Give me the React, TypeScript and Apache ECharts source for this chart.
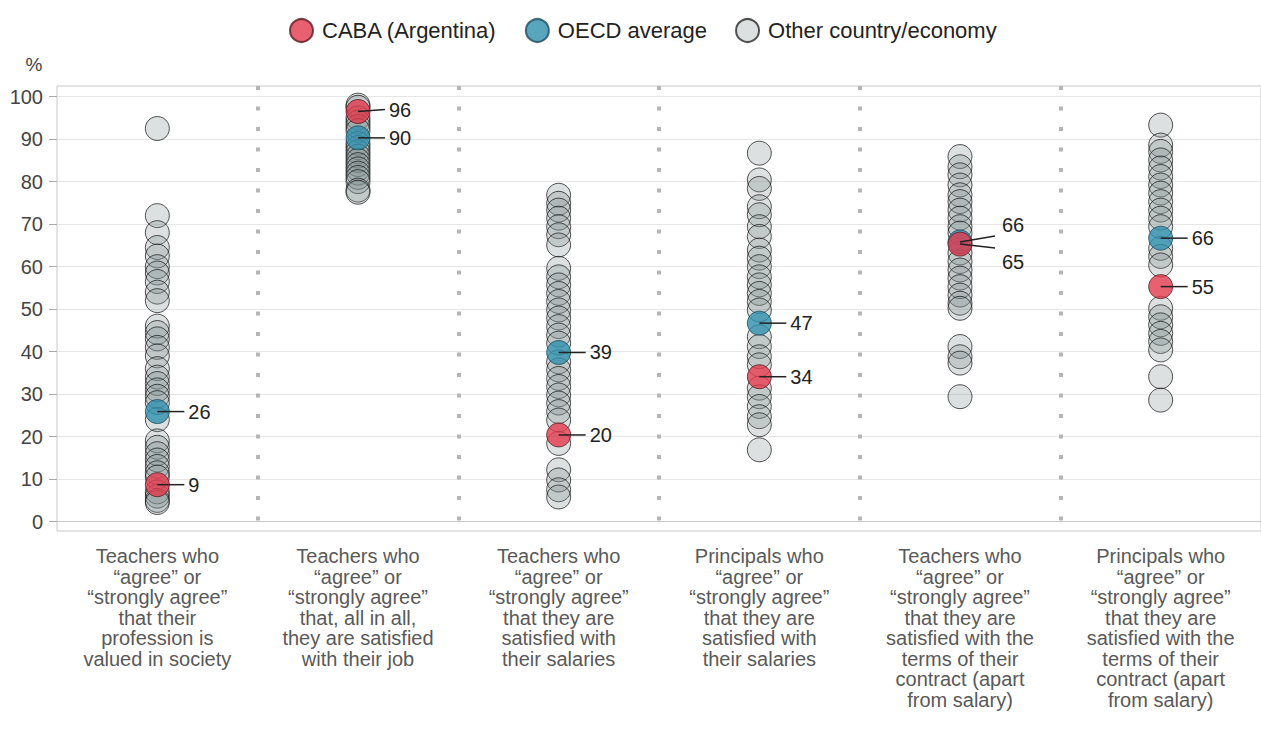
import React, { useEffect, useRef } from "react";
import * as echarts from "echarts";

const categories = [
  "Teachers who\n“agree” or\n“strongly agree”\nthat their\nprofession is\nvalued in society",
  "Teachers who\n“agree” or\n“strongly agree”\nthat, all in all,\nthey are satisfied\nwith their job",
  "Teachers who\n“agree” or\n“strongly agree”\nthat they are\nsatisfied with\ntheir salaries",
  "Principals who\n“agree” or\n“strongly agree”\nthat they are\nsatisfied with\ntheir salaries",
  "Teachers who\n“agree” or\n“strongly agree”\nthat they are\nsatisfied with the\nterms of their\ncontract (apart\nfrom salary)",
  "Principals who\n“agree” or\n“strongly agree”\nthat they are\nsatisfied with the\nterms of their\ncontract (apart\nfrom salary)",
];

const othersCol1 = [92.5, 72, 68, 64.5, 62.5, 60, 58.5, 56.5, 54, 52, 46, 44.5, 43, 41, 39, 36, 34, 32.5, 31, 29.5, 28, 24, 19, 17.5, 16, 14.5, 13, 11.5, 10.5, 7, 6, 5, 4.5];
const othersCol2 = [98, 97.5, 95, 94, 93, 92, 89, 88, 87, 86, 85, 84, 83, 82, 81, 80, 78, 77.5];
const othersCol3 = [76.8, 74.9, 73.3, 71.4, 69.4, 67.5, 65.1, 59.6, 57.6, 55.7, 53.7, 51.8, 49.8, 47.9, 45.9, 43.9, 42, 37.6, 35.7, 33.7, 31.8, 29.8, 27.9, 25.9, 23.9, 18.4, 12.2, 9.8, 7.5, 5.8];
const othersCol4 = [86.7, 80.4, 78.4, 74.1, 72.2, 69.4, 67.1, 63.9, 62, 60, 57.6, 55.7, 53.7, 51.8, 49.8, 43.5, 41.2, 38.8, 36.9, 31.4, 29.4, 27.1, 24.7, 22.8, 16.9];
const othersCol5 = [85.9, 83.5, 81.6, 79.2, 76.9, 75.3, 73.3, 71.4, 69.4, 67.9, 63.2, 61.2, 59.2, 57.3, 55.3, 53.3, 51.4, 50.2, 41.2, 38.8, 37.3, 29.4];
const othersCol6 = [93.3, 88.6, 87.1, 85.1, 83.2, 81.2, 79.2, 77.3, 75.3, 73.3, 71.4, 69.4, 64.3, 62.4, 60.4, 50.2, 48.2, 46.3, 44.3, 42.4, 40.4, 34.1, 28.6];
const othersByColumn = [othersCol1, othersCol2, othersCol3, othersCol4, othersCol5, othersCol6];

const cabaValues = [8.7, 96.5, 20.4, 34.1, 65.3, 55.3];
const cabaLabels = ["9", "96", "20", "34", "65", "55"];
const oecdValues = [25.9, 90.3, 39.8, 46.7, 65.8, 66.7];
const oecdLabels = ["26", "90", "39", "47", "66", "66"];

const yTicks = [0, 10, 20, 30, 40, 50, 60, 70, 80, 90, 100];

const FONT = "'Liberation Sans', Arial, sans-serif";

// label leader offsets (style only): [lineDx, lineDy, textDx, textDy]
const cabaOffsets = [
  [27, 0, 31, 0], [27, -2, 31, -2], [27, 0, 31, 0], [27, 0, 31, 0], [35, 4, 42, 18], [27, 0, 31, 0],
];
const oecdOffsets = [
  [27, 0, 31, 0], [27, 0, 31, 0], [27, 0, 31, 0], [27, 0, 31, 0], [35, -6, 42, -17], [27, 0, 31, 0],
];

export default function App() {
  const ref = useRef<HTMLDivElement>(null);
  useEffect(() => {
    if (!ref.current) return;
    const chart = echarts.init(ref.current, null, { renderer: "svg" });

    const otherData: number[][] = [];
    othersByColumn.forEach((col, i) => col.forEach((v) => otherData.push([i, v])));
    const cabaData = cabaValues.map((v, i) => [i, v]);
    const oecdData = oecdValues.map((v, i) => [i, v]);

    const annData: any[] = [];
    const annMeta: { label: string; off: number[] }[] = [];
    oecdValues.forEach((v, i) => {
      annData.push([i, v]);
      annMeta.push({ label: oecdLabels[i], off: oecdOffsets[i] });
    });
    cabaValues.forEach((v, i) => {
      annData.push([i, v]);
      annMeta.push({ label: cabaLabels[i], off: cabaOffsets[i] });
    });

    const option: any = {
      animation: false,
      textStyle: { fontFamily: FONT },
      legend: {
        top: 13,
        left: 284,
        itemWidth: 23,
        itemHeight: 23,
        itemGap: 28,
        icon: "circle",
        data: ["CABA (Argentina)", "OECD average", "Other country/economy"],
        textStyle: { fontSize: 22, color: "#222", fontFamily: FONT, padding: [0, 0, 0, 4] },
      },
      grid: {
        left: 57,
        right: 0,
        top: 86,
        bottom: 206,
        show: true,
        borderColor: "#c8c8c8",
        borderWidth: 1,
        containLabel: false,
      },
      xAxis: {
        type: "category",
        data: categories,
        boundaryGap: true,
        axisLine: { show: true, lineStyle: { color: "#c8c8c8" } },
        axisTick: { show: false },
        axisLabel: {
          interval: 0,
          fontSize: 20,
          color: "#595959",
          lineHeight: 20.5,
          margin: 15,
          fontFamily: FONT,
        },
        splitLine: {
          show: true,
          showMinLine: false,
          showMaxLine: false,
          lineStyle: { color: "#b5b5b5", type: [4, 16.5], width: 4 },
        },
      },
      yAxis: {
        type: "value",
        min: -2.2,
        max: 102.5,
        name: "%",
        nameLocation: "end",
        nameGap: 12,
        nameTextStyle: { fontSize: 19, color: "#444", align: "center", padding: [0, 46, 0, 0], fontFamily: FONT },
        axisLine: { show: false },
        axisTick: { show: true, customValues: yTicks, length: 8, lineStyle: { color: "#aaa" } },
        axisLabel: { customValues: yTicks, fontSize: 20, color: "#444", margin: 14, fontFamily: FONT },
        splitLine: { show: true, lineStyle: { color: "#e6e6e6", width: 1 } },
      },
      series: [
        {
          name: "Other country/economy",
          type: "scatter",
          data: otherData,
          symbolSize: 24,
          clip: false,
          itemStyle: {
            color: "rgba(125,140,140,0.34)",
            borderColor: "rgba(20,20,20,0.9)",
            borderWidth: 1,
          },
          z: 2,
        },
        {
          name: "OECD average",
          type: "scatter",
          data: oecdData,
          symbolSize: 24,
          clip: false,
          itemStyle: { color: "#2f8fae", borderColor: "#1e4b5a", borderWidth: 1 },
          z: 3,
        },
        {
          name: "CABA (Argentina)",
          type: "scatter",
          data: cabaData,
          symbolSize: 24,
          clip: false,
          itemStyle: { color: "#e23a4c", borderColor: "#5a1a22", borderWidth: 1 },
          z: 4,
        },
        {
          type: "custom",
          data: annData,
          z: 5,
          silent: true,
          renderItem: (params: any, api: any) => {
            const i = params.dataIndex;
            const c = api.coord([api.value(0), api.value(1)]);
            const m = annMeta[i];
            return {
              type: "group",
              children: [
                {
                  type: "line",
                  shape: { x1: c[0], y1: c[1], x2: c[0] + m.off[0], y2: c[1] + m.off[1] },
                  style: { stroke: "#222", lineWidth: 1.5 },
                },
                {
                  type: "text",
                  x: c[0] + m.off[2],
                  y: c[1] + m.off[3],
                  style: {
                    text: m.label,
                    fill: "#222",
                    fontSize: 20,
                    fontFamily: FONT,
                    align: "left",
                    verticalAlign: "middle",
                  },
                },
              ],
            };
          },
        },
      ],
    };
    chart.setOption(option);
    return () => chart.dispose();
  }, []);
  return (
    <div
      ref={ref}
      style={{ position: "fixed", left: 0, top: 0, width: 1261, height: 737, background: "#fff" }}
    />
  );
}
